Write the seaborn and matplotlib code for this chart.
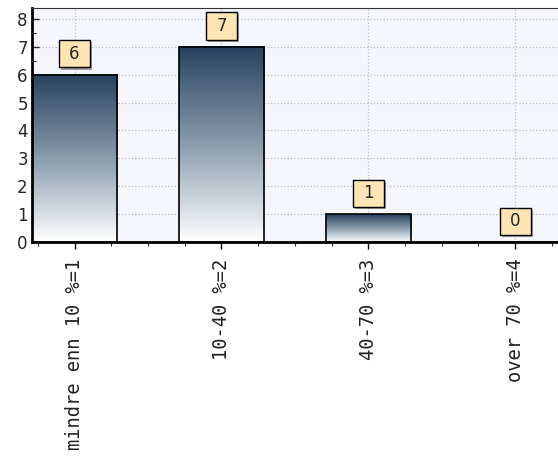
import numpy as np
import pandas as pd
import matplotlib
matplotlib.use("Agg")
import matplotlib.pyplot as plt
import matplotlib.patheffects as pe
from matplotlib.path import Path
from matplotlib.ticker import MultipleLocator
import seaborn as sns

categories = ["mindre enn 10 %=1", "10-40 %=2", "40-70 %=3", "over 70 %=4"]
values = [6, 7, 1, 0]

sns.set_style("white")
plt.rcParams['font.family'] = ['DejaVu Sans']

fig = plt.figure(figsize=(5.58, 4.71), dpi=100)
ax = fig.add_axes([32/558, (471-242)/471, 1 - 32/558 + 0.01, (242-8)/471])
ax.set_facecolor("#f5f6fc")

df = pd.DataFrame({"cat": categories, "val": values})
sns.barplot(data=df, x="cat", y="val", ax=ax, width=0.58, color="#2c4862",
            edgecolor="black", linewidth=1.2, zorder=3)

grad = np.linspace(0, 1, 256).reshape(-1, 1)
cmap = matplotlib.colors.LinearSegmentedColormap.from_list(
    "g", ["#ffffff", "#8a9cae", "#27425e"])
for p in list(ax.patches):
    x0, y0 = p.get_x(), p.get_y()
    w, h = p.get_width(), p.get_height()
    if h > 0:
        ax.imshow(grad, extent=[x0, x0 + w, y0, y0 + h], origin="lower",
                  cmap=cmap, aspect="auto", zorder=2.5)
    p.set_facecolor("none")
ax.set_aspect("auto")
ax.set_xlim(-0.29, 3.33)
ax.set_ylim(0, 8.39)


def wide_box(x0, y0, width, height, mutation_size):
    px = 0.62 * mutation_size
    py = 0.28 * mutation_size
    x0, y0 = x0 - px, y0 - py
    x1, y1 = x0 + width + 2 * px, y0 + height + 2 * py
    return Path([(x0, y0), (x1, y0), (x1, y1), (x0, y1), (x0, y0)], closed=True)


# value labels
for i, v in enumerate(values):
    t = ax.annotate(str(v), xy=(i, v), xytext=(0, 15), textcoords="offset points",
                    ha="center", va="center", fontsize=12, zorder=6,
                    bbox=dict(boxstyle=wide_box, fc="#fce4b4", ec="black", lw=1.0))
    bp = t.get_bbox_patch()
    bp.set_path_effects([pe.SimplePatchShadow(offset=(1.5, -1.5), alpha=0.5), pe.Normal()])

# grid
ax.yaxis.set_major_locator(MultipleLocator(1))
ax.yaxis.set_minor_locator(MultipleLocator(0.5))
ax.xaxis.set_minor_locator(MultipleLocator(0.25))
ax.grid(True, which="major", axis="both", color="#b8bccc", linestyle=":", linewidth=0.9, zorder=0)
ax.set_axisbelow(True)

ax.set_xlabel("")
ax.set_ylabel("")
ax.tick_params(axis="x", which="major", rotation=90, labelsize=13.5, length=5, width=1,
               direction="out", pad=7, colors="black")
for lbl in ax.get_xticklabels():
    lbl.set_fontfamily("DejaVu Sans Mono")
    lbl.set_color("#222222")
ax.tick_params(axis="x", which="minor", length=3, width=0.8, direction="out")
ax.tick_params(axis="y", which="major", labelsize=12, length=5, width=1, direction="in", pad=3)
ax.tick_params(axis="y", which="minor", length=3, width=0.8, direction="in")
ax.tick_params(axis="both", which="both", bottom=True, left=True)

for s in ["left", "bottom"]:
    ax.spines[s].set_linewidth(2)
    ax.spines[s].set_color("black")
ax.spines["top"].set_linewidth(0.8)
ax.spines["top"].set_color("#333333")
ax.spines["right"].set_visible(False)

fig.savefig("out.png", dpi=100)
